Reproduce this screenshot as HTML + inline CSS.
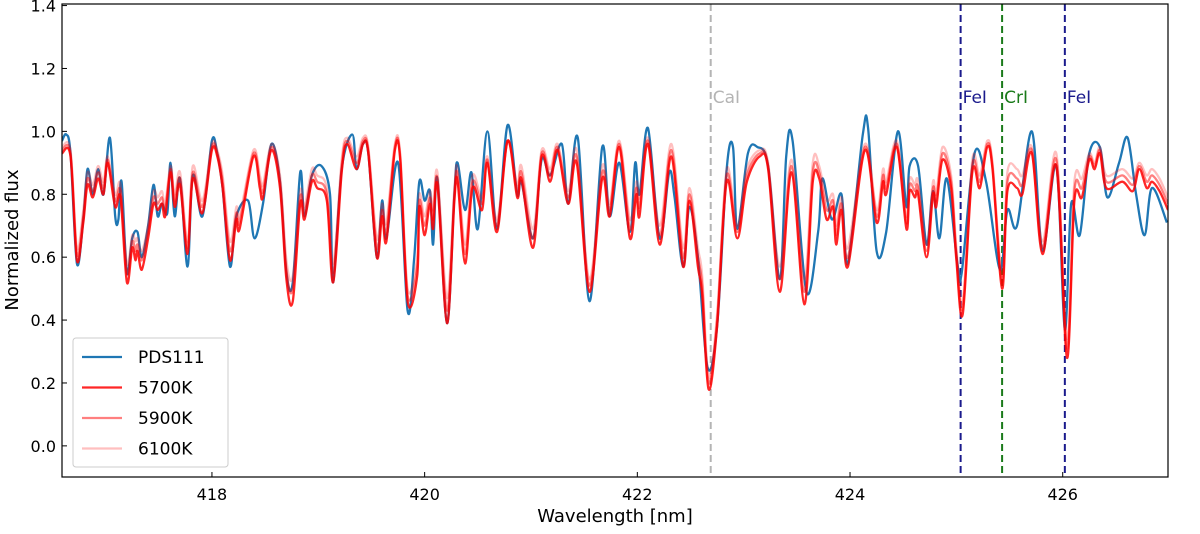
<!DOCTYPE html>
<html><head><meta charset="utf-8"><style>
body{margin:0;background:#fff;}
svg text{font-family:"DejaVu Sans","Liberation Sans",sans-serif;}
</style></head><body>
<svg id="chart" width="1200" height="529" xmlns="http://www.w3.org/2000/svg"></svg>
<script>
const wlModel=[416.59,416.67,416.73,416.79,416.83,416.88,416.93,416.98,417.02,417.09,417.14,417.20,417.25,417.28,417.30,417.34,417.40,417.45,417.49,417.53,417.56,417.61,417.65,417.70,417.77,417.82,417.91,418.00,418.05,418.10,418.17,418.23,418.26,418.39,418.45,418.48,418.56,418.64,418.70,418.76,418.83,418.87,418.94,418.99,419.08,419.14,419.22,419.27,419.36,419.42,419.47,419.55,419.60,419.64,419.72,419.77,419.84,419.93,419.95,420.00,420.05,420.08,420.12,420.21,420.28,420.31,420.38,420.45,420.54,420.59,420.68,420.78,420.87,420.91,421.02,421.10,421.18,421.25,421.35,421.43,421.55,421.67,421.74,421.83,421.93,421.99,422.02,422.10,422.21,422.32,422.43,422.49,422.57,422.61,422.67,422.75,422.84,422.94,423.03,423.15,423.23,423.34,423.45,423.57,423.65,423.71,423.78,423.84,423.87,423.92,423.98,424.14,424.25,424.31,424.34,424.44,424.53,424.56,424.61,424.64,424.72,424.78,424.81,424.87,424.95,425.00,425.06,425.15,425.22,425.29,425.34,425.43,425.48,425.57,425.62,425.71,425.81,425.94,426.04,426.11,426.18,426.25,426.30,426.35,426.41,426.56,426.66,426.72,426.79,426.84,426.91,426.99];
const flux5700=[0.93,0.92,0.59,0.71,0.83,0.79,0.85,0.80,0.90,0.76,0.79,0.52,0.63,0.59,0.62,0.56,0.66,0.77,0.75,0.77,0.73,0.87,0.76,0.83,0.61,0.85,0.74,0.94,0.92,0.82,0.59,0.72,0.69,0.92,0.82,0.79,0.94,0.82,0.53,0.46,0.77,0.72,0.84,0.82,0.78,0.52,0.87,0.96,0.88,0.96,0.93,0.60,0.73,0.65,0.94,0.91,0.46,0.54,0.76,0.67,0.77,0.69,0.83,0.39,0.78,0.84,0.58,0.82,0.75,0.90,0.68,0.97,0.79,0.85,0.63,0.92,0.84,0.94,0.77,0.90,0.49,0.85,0.73,0.95,0.66,0.80,0.73,0.96,0.64,0.92,0.57,0.78,0.57,0.48,0.18,0.38,0.84,0.66,0.84,0.92,0.88,0.49,0.87,0.45,0.84,0.85,0.72,0.76,0.64,0.75,0.57,0.94,0.71,0.84,0.80,0.95,0.69,0.81,0.79,0.80,0.60,0.80,0.76,0.91,0.82,0.59,0.42,0.87,0.82,0.95,0.88,0.50,0.81,0.82,0.80,0.93,0.61,0.89,0.28,0.78,0.79,0.91,0.88,0.93,0.82,0.84,0.81,0.88,0.82,0.84,0.81,0.75];
const flux5900=[0.94,0.93,0.61,0.73,0.85,0.81,0.87,0.82,0.91,0.78,0.81,0.55,0.65,0.62,0.64,0.59,0.68,0.79,0.77,0.79,0.75,0.88,0.78,0.85,0.63,0.87,0.76,0.95,0.93,0.84,0.62,0.74,0.71,0.93,0.84,0.81,0.95,0.84,0.56,0.50,0.79,0.74,0.86,0.84,0.80,0.55,0.89,0.97,0.90,0.97,0.94,0.63,0.75,0.68,0.95,0.92,0.48,0.57,0.78,0.70,0.79,0.72,0.85,0.43,0.80,0.86,0.61,0.84,0.77,0.91,0.70,0.97,0.81,0.87,0.66,0.93,0.86,0.95,0.79,0.92,0.51,0.87,0.75,0.96,0.69,0.82,0.76,0.97,0.67,0.94,0.60,0.80,0.60,0.51,0.20,0.40,0.86,0.68,0.86,0.93,0.89,0.53,0.89,0.49,0.87,0.87,0.75,0.78,0.67,0.77,0.60,0.95,0.73,0.86,0.82,0.96,0.71,0.83,0.81,0.82,0.62,0.82,0.78,0.93,0.84,0.61,0.44,0.89,0.84,0.96,0.89,0.52,0.84,0.85,0.83,0.94,0.63,0.91,0.31,0.81,0.82,0.92,0.89,0.94,0.84,0.86,0.83,0.89,0.84,0.86,0.83,0.77];
const flux6100=[0.95,0.94,0.63,0.75,0.87,0.83,0.89,0.84,0.92,0.80,0.83,0.58,0.67,0.65,0.66,0.62,0.70,0.81,0.79,0.81,0.77,0.89,0.80,0.87,0.65,0.89,0.78,0.96,0.94,0.86,0.65,0.76,0.73,0.94,0.86,0.83,0.96,0.86,0.59,0.54,0.81,0.76,0.88,0.86,0.82,0.58,0.91,0.98,0.92,0.98,0.95,0.66,0.77,0.71,0.96,0.93,0.50,0.60,0.80,0.73,0.81,0.75,0.87,0.47,0.82,0.88,0.64,0.86,0.79,0.92,0.72,0.97,0.83,0.89,0.69,0.94,0.88,0.96,0.81,0.94,0.53,0.89,0.77,0.97,0.72,0.84,0.79,0.98,0.70,0.96,0.63,0.82,0.63,0.54,0.22,0.42,0.88,0.70,0.88,0.94,0.90,0.57,0.91,0.53,0.90,0.89,0.78,0.80,0.70,0.79,0.63,0.96,0.75,0.88,0.84,0.97,0.73,0.85,0.83,0.84,0.64,0.84,0.80,0.95,0.86,0.63,0.46,0.91,0.86,0.97,0.90,0.54,0.87,0.88,0.86,0.95,0.65,0.93,0.34,0.84,0.85,0.93,0.90,0.95,0.86,0.88,0.85,0.90,0.86,0.88,0.85,0.79];
const wlObs=[416.59,416.63,416.67,416.73,416.79,416.83,416.88,416.93,416.98,417.04,417.09,417.12,417.15,417.20,417.25,417.30,417.34,417.40,417.45,417.49,417.53,417.58,417.61,417.65,417.70,417.77,417.82,417.91,418.00,418.05,418.10,418.17,418.23,418.34,418.40,418.48,418.56,418.64,418.70,418.76,418.83,418.87,418.94,419.03,419.11,419.14,419.22,419.32,419.36,419.42,419.47,419.55,419.60,419.64,419.75,419.84,419.90,419.95,420.00,420.05,420.08,420.12,420.21,420.28,420.31,420.38,420.44,420.50,420.59,420.68,420.78,420.87,420.91,421.02,421.10,421.18,421.29,421.35,421.44,421.55,421.67,421.74,421.83,421.93,421.98,422.02,422.10,422.21,422.30,422.35,422.43,422.49,422.57,422.66,422.75,422.84,422.90,422.94,423.04,423.13,423.23,423.34,423.40,423.46,423.59,423.70,423.74,423.83,423.92,423.98,424.12,424.17,424.25,424.34,424.45,424.53,424.56,424.64,424.72,424.78,424.84,424.91,425.01,425.05,425.17,425.28,425.41,425.48,425.57,425.71,425.81,425.94,426.02,426.08,426.16,426.25,426.35,426.42,426.53,426.61,426.69,426.77,426.84,426.98];
const fluxObs=[0.97,0.99,0.93,0.58,0.72,0.88,0.80,0.88,0.80,0.98,0.73,0.72,0.84,0.55,0.66,0.68,0.60,0.70,0.83,0.73,0.77,0.74,0.90,0.73,0.85,0.57,0.86,0.73,0.97,0.93,0.82,0.57,0.73,0.78,0.66,0.77,0.96,0.84,0.55,0.52,0.87,0.73,0.86,0.89,0.80,0.52,0.88,0.99,0.88,0.96,0.93,0.60,0.78,0.66,0.90,0.43,0.59,0.84,0.78,0.81,0.64,0.85,0.39,0.80,0.90,0.75,0.87,0.69,1.00,0.69,1.02,0.80,0.84,0.66,0.91,0.86,0.96,0.77,0.98,0.46,0.95,0.73,0.90,0.68,0.90,0.80,1.01,0.66,0.87,0.79,0.57,0.76,0.60,0.25,0.38,0.88,0.95,0.69,0.93,0.95,0.89,0.53,0.92,0.97,0.49,0.68,0.85,0.72,0.80,0.58,0.99,1.01,0.62,0.68,1.00,0.76,0.89,0.89,0.64,0.81,0.66,0.85,0.58,0.55,0.93,0.84,0.56,0.75,0.70,1.00,0.62,0.89,0.37,0.77,0.67,0.93,0.95,0.79,0.90,0.98,0.80,0.67,0.82,0.71];
const xTicks=[418,420,422,424,426];
const yTicks=[0.0,0.2,0.4,0.6,0.8,1.0,1.2,1.4];
const lineNames=["CaI","FeI","CrI","FeI"];
const lineWl=[422.69,425.04,425.43,426.02];
const lineColors=["#b4b4b4","#1a1a8c","#1a7a1a","#1a1a8c"];

const L=62,R=1168,T=4,B=477,X0=416.59,X1=426.99,Y0=-0.099,Y1=1.405;
const sx=v=>L+(v-X0)/(X1-X0)*(R-L);
const sy=v=>B-(v-Y0)/(Y1-Y0)*(B-T);
const svg=document.getElementById('chart');
const NS="http://www.w3.org/2000/svg";
function mk(tag,attrs,parent){const e=document.createElementNS(NS,tag);for(const k in attrs)e.setAttribute(k,attrs[k]);(parent||svg).appendChild(e);return e;}

const clip=mk('clipPath',{id:'pc'});mk('rect',{x:L,y:T,width:R-L,height:B-T},clip);

lineWl.forEach((w,i)=>{
  const l=mk('line',{x1:sx(w),x2:sx(w),y1:T,y2:B,stroke:lineColors[i],'stroke-width':2,'stroke-dasharray':'7,4'});
  
  
  const t=mk('text',{x:sx(w)+2,y:103,fill:lineColors[i],'font-size':17});
  t.textContent=lineNames[i];
  
  
});

function series(wl,fl,color,op,name){
  const n=Math.min(wl.length,fl.length);
  const P=[];for(let i=0;i<n;i++)P.push([sx(wl[i]),sy(fl[i])]);
  let d='M'+P[0][0].toFixed(1)+','+P[0][1].toFixed(1);
  for(let i=0;i<n-1;i++){
    const p0=P[Math.max(0,i-1)],p1=P[i],p2=P[i+1],p3=P[Math.min(n-1,i+2)];
    const c1x=p1[0]+(p2[0]-p0[0])/6,c1y=p1[1]+(p2[1]-p0[1])/6;
    const c2x=p2[0]-(p3[0]-p1[0])/6,c2y=p2[1]-(p3[1]-p1[1])/6;
    d+='C'+c1x.toFixed(1)+','+c1y.toFixed(1)+' '+c2x.toFixed(1)+','+c2y.toFixed(1)+' '+p2[0].toFixed(1)+','+p2[1].toFixed(1);
  }
  const p=mk('path',{d:d,fill:'none',stroke:color,'stroke-opacity':op,'stroke-width':2.3,'stroke-linejoin':'round','clip-path':'url(#pc)'});
  
  
}
series(wlObs,fluxObs,'#1f77b4',1,'series-pds111');
series(wlModel,flux6100,'#ff0000',0.25,'series-6100k');
series(wlModel,flux5900,'#ff0000',0.5,'series-5900k');
series(wlModel,flux5700,'#ff0000',0.85,'series-5700k');

const fr=mk('rect',{x:L,y:T,width:R-L,height:B-T,fill:'none',stroke:'#000','stroke-width':1.2});



xTicks.forEach(v=>{
  mk('line',{x1:sx(v),x2:sx(v),y1:B,y2:B-5,stroke:'#000'});
  const t=mk('text',{x:sx(v),y:B+23,'text-anchor':'middle','font-size':16});
  t.textContent=v;
  
  
});
yTicks.forEach(v=>{
  mk('line',{x1:L,x2:L+5,y1:sy(v),y2:sy(v),stroke:'#000'});
  const t=mk('text',{x:L-6,y:sy(v)+6,'text-anchor':'end','font-size':16});
  t.textContent=v.toFixed(1);
  
  
});
const xl=mk('text',{x:(L+R)/2,y:522,'text-anchor':'middle','font-size':18});
xl.textContent='Wavelength [nm]';


const yl=mk('text',{x:0,y:0,'text-anchor':'middle','font-size':18,transform:'translate(18,240) rotate(-90)'});
yl.textContent='Normalized flux';



const lg=mk('g',{});


mk('rect',{x:73,y:338,width:155,height:129,rx:3,fill:'#fff','fill-opacity':0.8,stroke:'#ccc'},lg);
const legNames=['PDS111','5700K','5900K','6100K'];
const legCol=['#1f77b4','#ff0000','#ff0000','#ff0000'];
const legOp=[1,0.85,0.5,0.25];
legNames.forEach((n,i)=>{
  const y=357+i*30.5;
  const g=mk('g',{},lg);
  
  
  mk('line',{x1:82,x2:122,y1:y,y2:y,stroke:legCol[i],'stroke-opacity':legOp[i],'stroke-width':2.2},g);
  const t=mk('text',{x:138,y:y+6,'font-size':17},g);t.textContent=n;
});
</script>
</body></html>
